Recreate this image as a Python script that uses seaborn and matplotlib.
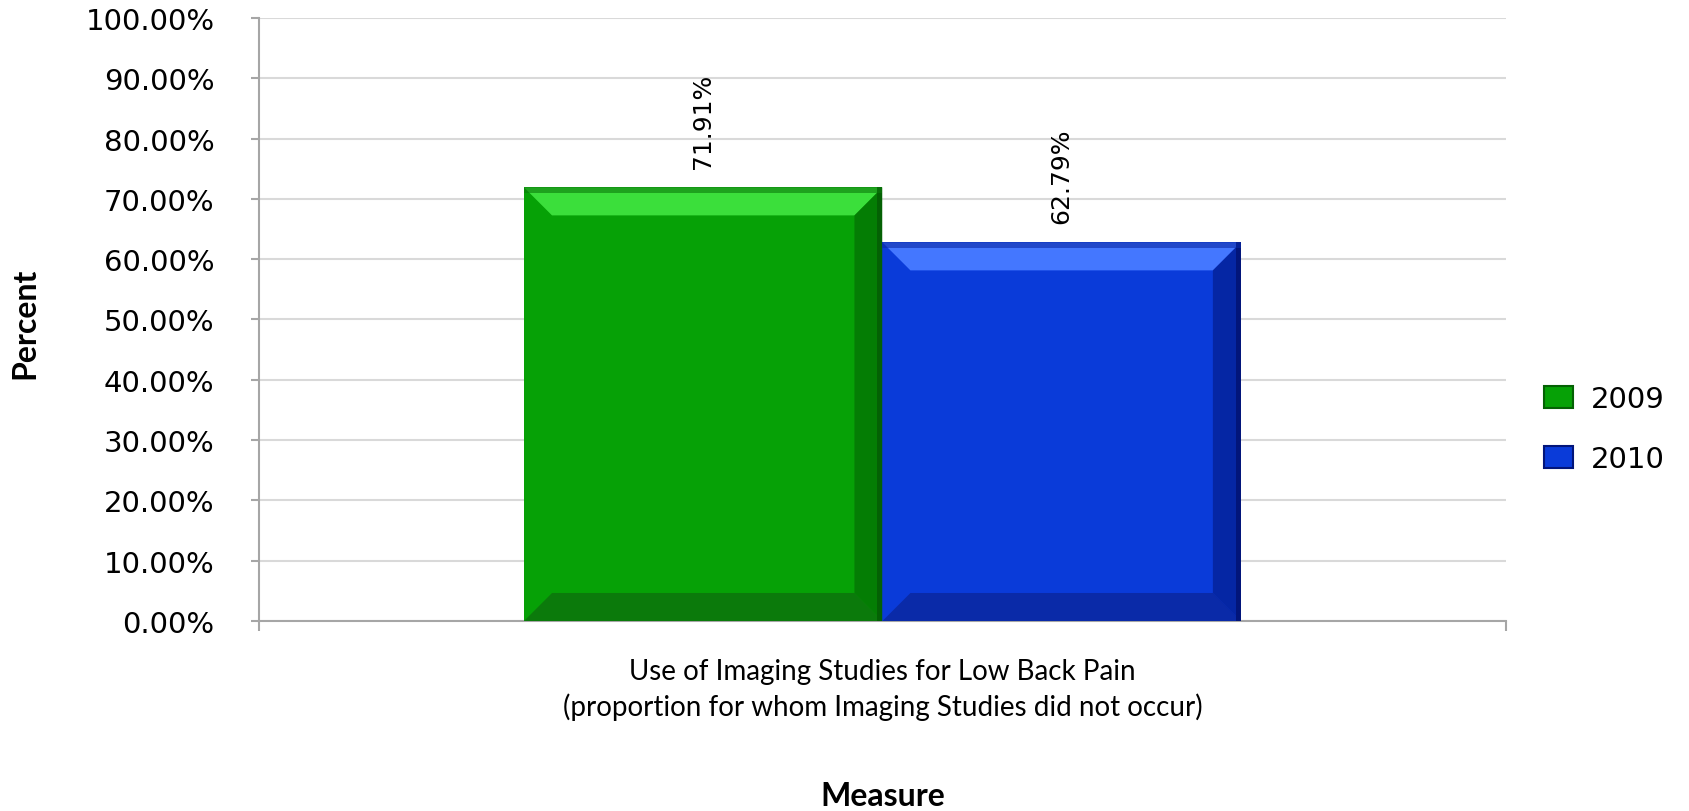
import numpy as np
import pandas as pd
import seaborn as sns
import matplotlib
matplotlib.use('Agg')
import matplotlib.pyplot as plt
from matplotlib.patches import Polygon, Patch

categories = ['Use of Imaging Studies for Low Back Pain\n(proportion for whom Imaging Studies did not occur)']
years = ['2009', '2010']
values = [71.91, 62.79]
yticks = np.arange(0, 101, 10)

colors = {'2009': '#06A106', '2010': '#0A3BD9'}
light = {'2009': '#3BDF3B', '2010': '#4477FF'}
dark = {'2009': '#0B7A0B', '2010': '#0A2AA8'}
side = {'2009': '#046104', '2010': '#02157A'}

sns.set_style('white')
plt.rcParams['font.family'] = ['DejaVu Sans']
plt.rcParams['text.color'] = 'black'
plt.rcParams['xtick.labelcolor'] = 'black'
plt.rcParams['ytick.labelcolor'] = 'black'
plt.rcParams['axes.labelcolor'] = 'black'

df = pd.DataFrame({'Measure': categories * len(years), 'Year': years, 'Percent': values})

fig = plt.figure(figsize=(16.9, 8.12), dpi=100)
ax = fig.add_axes([0.1533, 0.234, 0.7377, 0.7426])

sns.barplot(data=df, x='Measure', y='Percent', hue='Year', palette=colors,
            saturation=1, width=0.575, ax=ax, legend=False, zorder=3, linewidth=0)

ax.set_xlim(-0.5, 0.5)
ax.set_ylim(0, 100)
ax.set_yticks(yticks)
ax.set_yticklabels([f'{t:.2f}%' for t in yticks], fontsize=21)
ax.yaxis.grid(True, color='#D9D9D9', linewidth=1.5, zorder=0)
ax.set_axisbelow(True)

for s in ['top', 'right']:
    ax.spines[s].set_visible(False)
for s in ['left', 'bottom']:
    ax.spines[s].set_color('#A6A6A6')
    ax.spines[s].set_linewidth(1.5)

ax.tick_params(axis='y', direction='out', length=6, width=1.5, color='#A6A6A6', pad=26, left=True)
ax.tick_params(axis='x', which='major', length=0, pad=27)
ax.set_xticks([-0.5, 0.5], minor=True)
ax.tick_params(axis='x', which='minor', direction='out', length=7, width=1.5, color='#A6A6A6', bottom=True)
for lab in ax.get_xticklabels():
    lab.set_family('Lato')
    lab.set_fontsize(20)
    lab.set_linespacing(1.35)

# bevel effect built from each bar's own geometry
ppx = 1.0 / (0.7377 * 1690)
ppy = 100.0 / (0.7426 * 812)
for bar, yr in zip(ax.patches, years):
    x0, w, h = bar.get_x(), bar.get_width(), bar.get_height()
    x1 = x0 + w
    bx, by = 28 * ppx, 28 * ppy
    ax.add_patch(Polygon([(x0, h), (x1, h), (x1 - bx, h - by), (x0 + bx, h - by)],
                         closed=True, facecolor=light[yr], edgecolor='none', zorder=4))
    ax.add_patch(Polygon([(x0, 0), (x1, 0), (x1 - bx, by), (x0 + bx, by)],
                         closed=True, facecolor=dark[yr], edgecolor='none', zorder=4))
    ax.add_patch(Polygon([(x1, 0), (x1, h), (x1 - bx, h - by), (x1 - bx, by)],
                         closed=True, facecolor=side[yr], edgecolor='none', zorder=4, alpha=0.55))
    ax.add_patch(Polygon([(x1 - 5 * ppx, 0), (x1, 0), (x1, h), (x1 - 5 * ppx, h)],
                         closed=True, facecolor=side[yr], edgecolor='none', zorder=5))
    ax.add_patch(Polygon([(x0, h - 6 * ppy), (x1, h - 6 * ppy), (x1, h), (x0, h)],
                         closed=True, facecolor=dark[yr], edgecolor='none', zorder=5, alpha=0.6))

for container in ax.containers:
    ax.bar_label(container, labels=[f'{v:.2f}%' for v in container.datavalues],
                 rotation=90, padding=14, fontsize=18, color='black')

ax.set_xlabel('Measure', family='Lato', fontweight='bold', fontsize=23, va='center')
ax.set_ylabel('Percent', family='Lato', fontweight='bold', fontsize=23, va='center')
ax.xaxis.set_label_coords(0.5, -0.29)
ax.yaxis.set_label_coords(-0.188, 0.496)

handles = [Patch(facecolor=colors[y], edgecolor=side[y], linewidth=1.5) for y in years]
fig.legend(handles, years, loc='center left', bbox_to_anchor=(0.898, 0.47),
           frameon=False, fontsize=21, handlelength=1.0, handleheight=0.8,
           labelspacing=1.1, handletextpad=0.6)

fig.savefig('out.png', dpi=100)
